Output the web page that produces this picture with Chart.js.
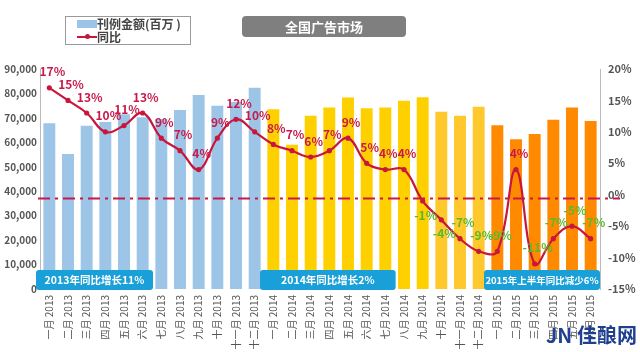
<!DOCTYPE html>
<html>
<head>
<meta charset="utf-8">
<script src="https://cdn.jsdelivr.net/npm/chart.js@4.4.1/dist/chart.umd.min.js"></script>
<style>
    html, body { margin: 0; padding: 0; background: #fff; }
    body { width: 640px; height: 352px; position: relative; overflow: hidden;
        font-family: 'Noto Sans CJK SC', 'Noto Sans', sans-serif; }
    #wrap { position: absolute; left: 0; top: 0; width: 640px; height: 352px; }
    .legend { position: absolute; left: 65px; top: 16px; width: 124px; height: 27px;
        border: 1px solid #9a9a9a; font-size: 12px; font-weight: bold; color: #444; line-height: 13px; }
    .legend .row { position: relative; height: 13px; padding-left: 31px; }
    .legend .sw-bar { position: absolute; left: 11px; top: 3px; width: 20px; height: 8px; background: #9dc3e6; }
    .legend .sw-line { position: absolute; left: 11px; top: 6px; width: 20px; height: 2px; background: #c8173c; }
    .legend .sw-dot { position: absolute; left: 19px; top: 4px; width: 5px; height: 5px; border-radius: 50%; background: #c8173c; }
    .title { position: absolute; left: 242px; top: 16px; width: 164px; height: 21px; border-radius: 4px;
        background: #7f7f7f; color: #fff; font-size: 13px; font-weight: bold; text-align: center; line-height: 21px; }
    .mark { position: absolute; left: 546px; top: 320px; color: #1f3f8f; font-size: 20px; font-weight: bold; }
</style>
</head>
<body>
<div id="wrap"><canvas id="adChart" width="640" height="352"></canvas></div>
<div class="legend">
    <div class="row"><span class="sw-bar"></span>刊例金额(百万 )</div>
    <div class="row"><span class="sw-line"></span><span class="sw-dot"></span>同比</div>
</div>
<div class="title">全国广告市场</div>
<div class="mark">JN 佳酿网</div>
<script>
const MONTHS = ['一月', '二月', '三月', '四月', '五月', '六月', '七月', '八月', '九月', '十月', '十一月', '十二月'];
const YEARS = [2013, 2014, 2015];
const MONTHS_PER_YEAR = [12, 12, 6];

const amount2013 = [67800, 55200, 66800, 68300, 71500, 70300, 69500, 73200, 79400, 75000, 76500, 82300];
const amount2014 = [73500, 59000, 70900, 74300, 78300, 73900, 74200, 77000, 78400, 72500, 70900, 74600];
const amount2015 = [67000, 61300, 63400, 69200, 74300, 68700];

const growth2013 = [17, 15, 13, 10, 11, 13, 9, 7, 4, 9, 12, 10];
const growth2014 = [8, 7, 6, 7, 9, 5, 4, 4, -1, -4, -7, -9];
const growth2015 = [-9, 4, -11, -7, -5, -7];

const leftTicks = [0, 10000, 20000, 30000, 40000, 50000, 60000, 70000, 80000, 90000];
const rightTicks = [-15, -10, -5, 0, 5, 10, 15, 20];
const refLineValue = -0.6;

const yearBands = [
    { text: '2013年同比增长11%', from: 0, to: 5 },
    { text: '2014年同比增长2%', from: 12, to: 18 },
    { text: '2015年上半年同比减少6%', from: 24, to: 29 }
];

const labels = [];
const yearOf = [];
YEARS.forEach((y, yi) => {
    for (let m = 0; m < MONTHS_PER_YEAR[yi]; m++) {
        labels.push(MONTHS[m] + ' ' + y);
        yearOf.push(y);
    }
});
const amounts = [...amount2013, ...amount2014, ...amount2015];
const growth = [...growth2013, ...growth2014, ...growth2015];

const barColors = yearOf.map((y, i) => {
    if (y === 2013) return '#9dc5e8';
    if (y === 2015) return '#ff8a00';
    return i >= 21 ? '#ffc92e' : '#ffd000';
});

const FONT = "'Noto Sans CJK SC', 'Noto Sans', sans-serif";

const refLinePlugin = {
    id: 'refLine',
    afterDatasetDraw(chart, args) {
        if (args.meta.type !== 'bar') return;
        const y = chart.scales.yPct.getPixelForValue(refLineValue);
        const ctx = chart.ctx;
        ctx.save();
        ctx.strokeStyle = '#c8194b';
        ctx.lineWidth = 2;
        ctx.setLineDash([12, 5, 3, 5]);
        ctx.beginPath();
        ctx.moveTo(chart.chartArea.left - 2, y);
        ctx.lineTo(chart.chartArea.right + 20, y);
        ctx.stroke();
        ctx.restore();
    }
};

const pctLabelPlugin = {
    id: 'pctLabels',
    afterDatasetsDraw(chart) {
        const meta = chart.getDatasetMeta(1);
        const ctx = chart.ctx;
        ctx.save();
        ctx.font = 'bold 12px ' + FONT;
        ctx.textAlign = 'center';
        ctx.textBaseline = 'middle';
        meta.data.forEach((pt, i) => {
            const v = growth[i];
            const below = i === 20 || i === 21;
            ctx.fillStyle = v < 0 ? '#5cb82a' : '#c8194b';
            ctx.fillText(v + '%', pt.x + 3, pt.y + (below ? 14 : -16));
        });
        ctx.restore();
    }
};

const bandPlugin = {
    id: 'bands',
    afterDraw(chart) {
        const x = chart.scales.x;
        const ctx = chart.ctx;
        const half = x.width / labels.length / 2;
        const bottom = chart.chartArea.bottom;
        ctx.save();
        ctx.textAlign = 'center';
        ctx.textBaseline = 'middle';
        yearBands.forEach(b => {
            const l = x.getPixelForValue(b.from) - half - 4;
            const r = Math.min(x.getPixelForValue(b.to) + half + 1, chart.chartArea.right);
            ctx.fillStyle = '#1aa0d8';
            ctx.beginPath();
            ctx.roundRect(l, bottom - 19, r - l, 20, 3);
            ctx.fill();
            let size = 10.5;
            ctx.font = 'bold ' + size + 'px ' + FONT;
            while (ctx.measureText(b.text).width > r - l - 2 && size > 9) {
                size -= 0.5;
                ctx.font = 'bold ' + size + 'px ' + FONT;
            }
            ctx.fillStyle = '#fff';
            ctx.fillText(b.text, (l + r) / 2, bottom - 9);
        });
        ctx.restore();
    }
};

new Chart(document.getElementById('adChart'), {
    data: {
        labels,
        datasets: [
            {
                type: 'bar',
                label: '刊例金额(百万 )',
                data: amounts,
                yAxisID: 'yAmt',
                backgroundColor: barColors,
                barPercentage: 0.64,
                categoryPercentage: 1,
                order: 2
            },
            {
                type: 'line',
                label: '同比',
                data: growth,
                yAxisID: 'yPct',
                borderColor: '#c8173c',
                backgroundColor: '#c8173c',
                borderWidth: 2.2,
                pointRadius: 1.5,
                tension: 0.4,
                fill: false,
                order: 1
            }
        ]
    },
    options: {
        responsive: false,
        animation: false,
        layout: { padding: { top: 69, left: 0, right: 0, bottom: 0 } },
        plugins: { legend: { display: false }, tooltip: { enabled: false } },
        scales: {
            x: {
                grid: { display: false, drawTicks: false },
                border: { display: false },
                ticks: { color: '#555', font: { size: 10, family: FONT }, minRotation: 90, maxRotation: 90, autoSkip: false, padding: 6 },
                afterFit: s => { s.height = 63; }
            },
            yAmt: {
                position: 'left',
                min: 0, max: 90000,
                afterBuildTicks: s => { s.ticks = leftTicks.map(v => ({ value: v })); },
                grid: { display: false, drawTicks: true, tickLength: 1, tickColor: '#bbb' },
                border: { display: true, color: '#bbb' },
                ticks: { color: '#555', font: { size: 10, weight: 'bold', family: FONT }, padding: 2 },
                afterFit: s => { s.width = 40; }
            },
            yPct: {
                position: 'right',
                min: -15, max: 20,
                afterBuildTicks: s => { s.ticks = rightTicks.map(v => ({ value: v })); },
                grid: { display: false, drawTicks: true, tickLength: 4, tickColor: '#bbb' },
                border: { display: true, color: '#bbb' },
                ticks: { color: '#555', font: { size: 11, weight: 'bold', family: FONT }, padding: 4, callback: v => v + '%' },
                afterFit: s => { s.width = 40; }
            }
        }
    },
    plugins: [refLinePlugin, pctLabelPlugin, bandPlugin]
});
</script>
</body>
</html>
